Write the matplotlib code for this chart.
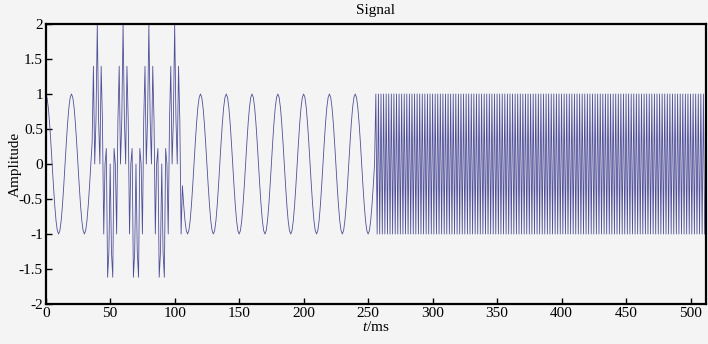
import numpy as np
import matplotlib
matplotlib.use("Agg")
import matplotlib.pyplot as plt

# ---- data description ----
fs_hz = 1000                      # sampling rate (512 samples, 1 ms apart)
duration_ms = 512
base_freq_hz = [50]               # low-frequency carrier, t < 256 ms
burst_window_ms = [37, 105]       # window with added high-frequency burst
burst_freq_hz = [300]
hf_start_ms = [256]               # second half: high-frequency tone
hf_freq_hz = [500]

x_ticks = [0, 50, 100, 150, 200, 250, 300, 350, 400, 450, 500]
y_ticks = [-2, -1.5, -1, -0.5, 0, 0.5, 1, 1.5, 2]
y_tick_labels = ["-2", "-1.5", "-1", "-0.5", "0", "0.5", "1", "1.5", "2"]

t_ms = np.arange(0, duration_ms * fs_hz // 1000) * 1000.0 / fs_hz
t_s = t_ms / 1000.0
sig = np.cos(2 * np.pi * base_freq_hz[0] * t_s)
in_burst = (t_ms >= burst_window_ms[0]) & (t_ms <= burst_window_ms[1])
sig = sig + np.where(in_burst, np.cos(2 * np.pi * burst_freq_hz[0] * t_s), 0)
sig = np.where(t_ms >= hf_start_ms[0], np.cos(2 * np.pi * hf_freq_hz[0] * t_s), sig)

plt.rcParams['font.family'] = ['Liberation Serif', 'DejaVu Serif']
plt.rcParams['mathtext.fontset'] = 'custom'
plt.rcParams['mathtext.it'] = 'Liberation Serif:italic'
bg = '#f4f4f4'
fs_txt = 11
fig = plt.figure(figsize=(7.08, 3.44), dpi=100, facecolor=bg)
ax = fig.add_axes([45.7/708, 40/344, (706-45.7)/708, 280/344], facecolor=bg)
ax.plot(t_ms, sig, color='#50509a', lw=0.6)
ax.set_xlim(0, 512)
ax.set_ylim(-2, 2)
ax.set_xticks(x_ticks)
ax.set_yticks(y_ticks)
ax.set_yticklabels(y_tick_labels)
ax.tick_params(direction='in', length=4, width=1, labelsize=fs_txt, pad=2,
               top=False, right=False, colors='black')
for s in ax.spines.values():
    s.set_linewidth(1.6)
    s.set_color('black')
ax.set_title('Signal', fontsize=fs_txt, pad=7)
ax.set_xlabel(r'$t$/ms', fontsize=fs_txt, labelpad=0)
ax.set_ylabel('Amplitude', fontsize=fs_txt, labelpad=-2)
fig.savefig('out.png', dpi=100, facecolor=bg)
